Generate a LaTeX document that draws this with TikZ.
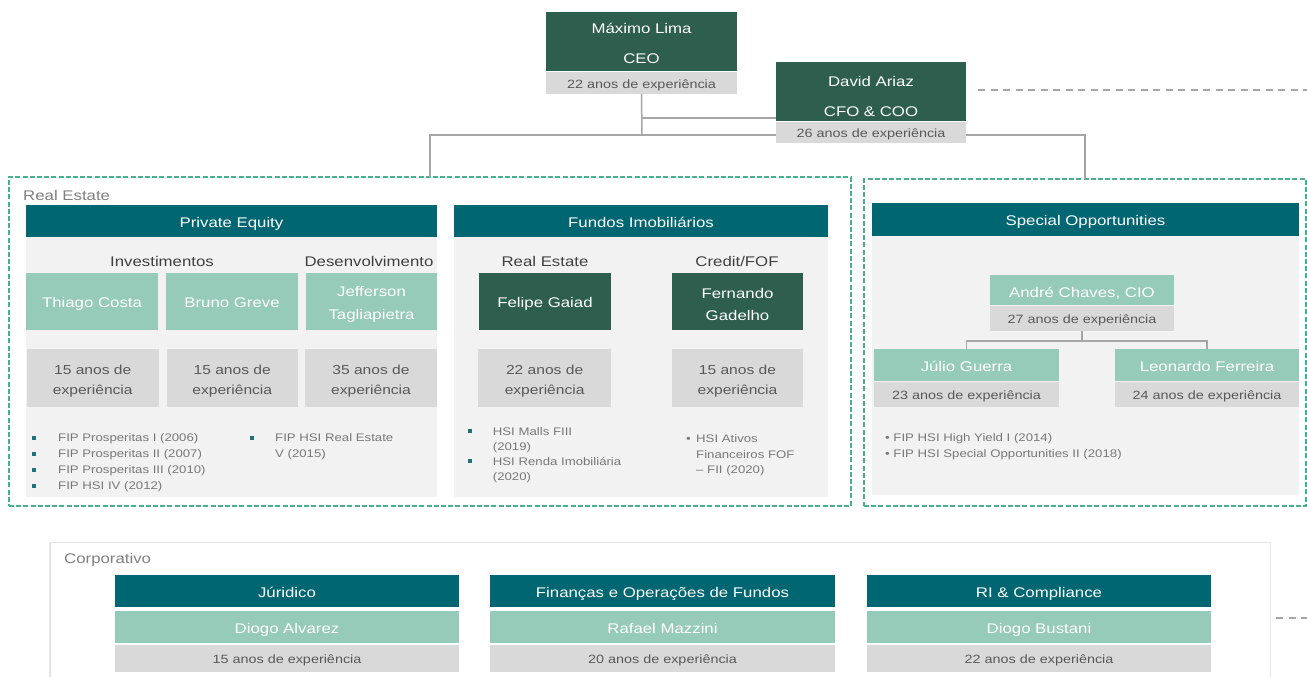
\documentclass[tikz,border=0pt]{standalone}
\usepackage{fontspec}
\setmainfont{Liberation Sans}[FakeStretch=1.2]
\definecolor{dkgreen}{RGB}{46,94,78}
\definecolor{hdteal}{RGB}{0,102,114}
\definecolor{lgreen}{RGB}{150,202,185}
\definecolor{lgray}{RGB}{217,217,217}
\definecolor{panelbg}{RGB}{242,242,242}
\definecolor{dgreen}{RGB}{72,176,140}
\definecolor{conncol}{RGB}{166,166,166}
\definecolor{txtgray}{RGB}{89,89,89}
\definecolor{subcol}{RGB}{64,64,64}
\definecolor{lblcol}{RGB}{128,128,128}
\definecolor{bulcol}{RGB}{120,120,120}
\definecolor{bteal}{RGB}{35,111,122}
\definecolor{corpcol}{RGB}{228,228,228}
\newcommand{\mybox}[7]{\node[#2, minimum width={(#5)-(#3)}, minimum height={(#6)-(#4)}] (#1) at ({((#3)+(#5))/2},{((#4)+(#6))/2}) {#7};}
\newcommand{\pushA}{\rule{0pt}{15.5pt}}
\newcommand{\pushB}{\rule{0pt}{16pt}}
\begin{document}
\begin{tikzpicture}[x=1pt,y=-1pt,
 base/.style={inner sep=0pt, outer sep=0pt, align=center},
 f14/.style={font=\fontsize{14}{17}\selectfont},
 c14/.style={f14, text height=12.5pt, text depth=0pt},
 c12/.style={font=\fontsize{12}{15}\selectfont, text height=10.1pt, text depth=0pt},
 dkbox/.style={base, fill=dkgreen, text=white},
 hdbox/.style={base, fill=hdteal, text=white, c14},
 lgbox/.style={base, fill=lgreen, text=white, c14},
 lgmbox/.style={base, fill=lgreen, text=white, font=\fontsize{14}{23}\selectfont},
 dkone/.style={dkbox, c14},
 dkmbox/.style={dkbox, font=\fontsize{14}{22.5}\selectfont},
 grbox/.style={base, fill=lgray, text=txtgray, c12},
 grmbox/.style={base, fill=lgray, text=txtgray, font=\fontsize{13}{20}\selectfont},
 panel/.style={base, fill=panelbg},
 gframe/.style={base, draw=dgreen, line width=1.2pt, dash pattern=on 5pt off 2.2pt},
 conn/.style={draw=conncol, line width=1.5pt},
 gdash/.style={draw=conncol, line width=1.6pt, dash pattern=on 7pt off 5.5pt},
 sub/.style={inner sep=0pt, text=subcol, f14},
 lbl/.style={inner sep=0pt, text=lblcol, f14},
 bul/.style={inner sep=0pt, text=bulcol, font=\fontsize{11}{13}\selectfont},
 sq/.style={fill=bteal, minimum size=4pt, inner sep=0pt},
 wtxt/.style={inner sep=0pt, text=white, f14},
]
\useasboundingbox (0,0) rectangle (1307,677);
\fill[white] (0,0) rectangle (1307,677);

% frames
\mybox{reframe}{gframe}{9}{177}{851}{506}{}
\mybox{soframe}{gframe}{864}{179}{1306}{506}{}
\coordinate (jL) at (430,135);
\coordinate (jR) at (1085,135);
\coordinate (jC) at (642,135);
\coordinate (jM) at (642,118);

% CEO
\mybox{ceo}{dkbox}{546}{12}{737}{71}{}
\node[wtxt, anchor=base] (ceoname) at (641.5,34) {Máximo Lima};
\node[wtxt, anchor=base] (ceorole) at (641.5,64) {CEO};
\mybox{ceox}{grbox}{546}{72.5}{737}{94}{22 anos de experiência}

\draw[conn] (ceox.south) -- (jC);
\draw[conn] (jL |- reframe.north) -- (jL) -- (jR) -- (jR |- soframe.north);

% CFO
\mybox{cfo}{dkbox}{776}{62}{966}{121}{}
\node[wtxt, anchor=base] (cfoname) at (871,86.5) {David Ariaz};
\node[wtxt, anchor=base] (cforole) at (871,117) {CFO \& COO};
\mybox{cfox}{grbox}{776}{122}{966}{143}{26 anos de experiência}
\draw[conn] (jM) -- (jM -| cfo.west);
\coordinate (dS) at (978,90);
\coordinate (dE) at (1307,90);
\draw[gdash] (dS) -- (dE);

% Real Estate label
\node[lbl, anchor=base west] (relbl) at (23,200) {Real Estate};

% Private Equity
\mybox{pe}{panel}{26}{205}{437}{497}{}
\mybox{pehd}{hdbox}{26}{205}{437}{237}{Private Equity}
\node[sub, anchor=base] (inv) at (162,266.7) {Investimentos};
\node[sub, anchor=base] (des) at (369,266.7) {Desenvolvimento};
\mybox{thiago}{lgbox}{26}{272.5}{158}{330}{Thiago Costa}
\mybox{bruno}{lgbox}{166}{272.5}{298}{330}{Bruno Greve}
\mybox{jeff}{lgmbox}{306}{272.5}{437}{330}{\pushB Jefferson\\Tagliapietra}
\mybox{thiagox}{grmbox}{26.5}{349}{159}{407}{\pushA 15 anos de\\experiência}
\mybox{brunox}{grmbox}{166.5}{349}{298}{407}{\pushA 15 anos de\\experiência}
\mybox{jeffx}{grmbox}{305}{349}{437}{407}{\pushA 35 anos de\\experiência}
\node[sq] (pb1) at (34,437.5) {};
\node[sq] (pb2) at (34,453.5) {};
\node[sq] (pb3) at (34,469.5) {};
\node[sq] (pb4) at (34,485.5) {};
\node[bul, anchor=base west] (pt1) at (58,441.5) {FIP Prosperitas I (2006)};
\node[bul, anchor=base west] (pt2) at (58,457.5) {FIP Prosperitas II (2007)};
\node[bul, anchor=base west] (pt3) at (58,473.5) {FIP Prosperitas III (2010)};
\node[bul, anchor=base west] (pt4) at (58,489.5) {FIP HSI IV (2012)};
\node[sq] (pb5) at (251.5,437.5) {};
\node[bul, anchor=base west] (pt5) at (275,441.5) {FIP HSI Real Estate};
\node[bul, anchor=base west] (pt6) at (275,457.5) {V (2015)};

% Fundos Imobiliarios
\mybox{fi}{panel}{454}{205}{828}{497}{}
\mybox{fihd}{hdbox}{454}{205}{828}{236.5}{Fundos Imobiliários}
\node[sub, anchor=base] (fire) at (545,266.7) {Real Estate};
\node[sub, anchor=base] (ficr) at (737,266.7) {Credit/FOF};
\mybox{felipe}{dkone}{479}{272.7}{611}{330}{Felipe Gaiad}
\mybox{fern}{dkmbox}{671.7}{272.7}{803.3}{330}{\pushB Fernando\\Gadelho}
\mybox{felipex}{grmbox}{478.3}{349.3}{611}{406.7}{\pushA 22 anos de\\experiência}
\mybox{fernx}{grmbox}{671.7}{349.3}{803.3}{406.7}{\pushA 15 anos de\\experiência}
\node[sq] (fb1) at (469.5,431) {};
\node[sq] (fb2) at (469.5,461) {};
\node[bul, anchor=base west] (ft1) at (492.7,435) {HSI Malls FIII};
\node[bul, anchor=base west] (ft2) at (492.7,450) {(2019)};
\node[bul, anchor=base west] (ft3) at (492.7,465) {HSI Renda Imobiliária};
\node[bul, anchor=base west] (ft4) at (492.7,480) {(2020)};
\node[bul, anchor=base west] (fdot) at (686,442.3) {•};
\node[bul, anchor=base west] (ft5) at (696,442.3) {HSI Ativos};
\node[bul, anchor=base west] (ft6) at (696,458) {Financeiros FOF};
\node[bul, anchor=base west] (ft7) at (696,473.5) {– FII (2020)};

% Special Opportunities
\mybox{so}{panel}{872}{203}{1299}{495}{}
\mybox{sohd}{hdbox}{872}{203}{1299}{236}{Special Opportunities}
\mybox{andre}{lgbox, text height=16pt}{990}{275}{1174}{304.5}{André Chaves, CIO}
\mybox{andrex}{grbox}{990}{305.5}{1174}{331}{27 anos de experiência}
\mybox{julio}{lgbox, text height=14pt}{874}{349}{1059}{380.5}{Júlio Guerra}
\mybox{juliox}{grbox}{874}{381.5}{1059}{407}{23 anos de experiência}
\mybox{leo}{lgbox, text height=14pt}{1115}{349}{1299}{380.5}{Leonardo Ferreira}
\mybox{leox}{grbox}{1115}{381.5}{1299}{407}{24 anos de experiência}
\draw[conn] (andrex.south) -- ++(0,10) -| (julio.north);
\draw[conn] (andrex.south) -- ++(0,10) -| (leo.north);
\node[bul, anchor=base west] (st1) at (885,441) {• FIP HSI High Yield I (2014)};
\node[bul, anchor=base west] (st2) at (885,457) {• FIP HSI Special Opportunities II (2018)};

% Corporativo
\draw[draw=corpcol, line width=1.5pt] (50,677) -- (50,542.5) -- (1270.5,542.5) -- (1270.5,677);
\node[lbl, anchor=base west] (corplbl) at (64,563) {Corporativo};
\mybox{jur}{hdbox}{115}{575}{459}{607}{Júridico}
\mybox{jurn}{lgbox}{115}{610.5}{459}{643}{Diogo Alvarez}
\mybox{jurx}{grbox}{115}{645}{459}{672}{15 anos de experiência}
\mybox{fin}{hdbox}{490}{575}{835}{607}{Finanças e Operações de Fundos}
\mybox{finn}{lgbox}{490}{610.5}{835}{643}{Rafael Mazzini}
\mybox{finx}{grbox}{490}{645}{835}{672}{20 anos de experiência}
\mybox{ri}{hdbox}{867}{575}{1211}{607}{RI \& Compliance}
\mybox{rin}{lgbox}{867}{610.5}{1211}{643}{Diogo Bustani}
\mybox{rix}{grbox}{867}{645}{1211}{672}{22 anos de experiência}
\coordinate (bS) at (1276,618);
\coordinate (bE) at (1307,618);
\draw[gdash] (bS) -- (bE);
\end{tikzpicture}
\end{document}
